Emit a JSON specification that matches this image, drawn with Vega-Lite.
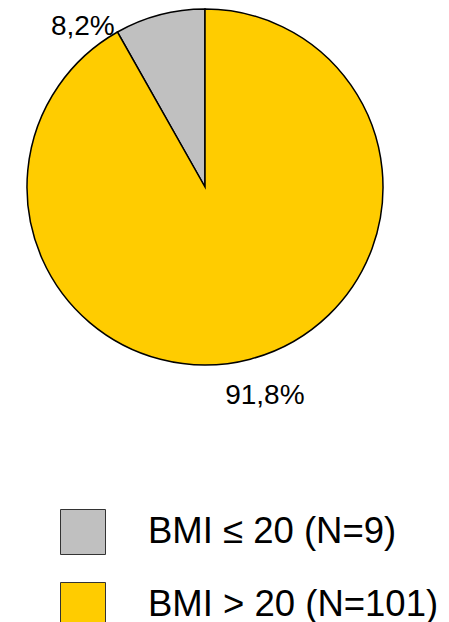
{
  "$schema": "https://vega.github.io/schema/vega-lite/v6.json",
  "width": 410,
  "height": 374,
  "autosize": {"type": "none"},
  "padding": {"left": 0, "top": 0, "right": 39, "bottom": 248},
  "background": "white",
  "view": {"stroke": null},
  "data": {
    "values": [
      {"group": "BMI ≤ 20 (N=9)", "n": 9, "pct": "8,2%"},
      {"group": "BMI > 20 (N=101)", "n": 101, "pct": "91,8%"}
    ]
  },
  "encoding": {
    "theta": {"field": "n", "type": "quantitative", "stack": true},
    "order": {"field": "n", "sort": "descending"}
  },
  "layer": [
    {
      "mark": {"type": "arc", "outerRadius": 178, "stroke": "black", "strokeWidth": 1.5},
      "encoding": {
        "color": {
          "field": "group",
          "type": "nominal",
          "scale": {"domain": ["BMI ≤ 20 (N=9)", "BMI > 20 (N=101)"], "range": ["#C0C0C0", "#FFCC00"]},
          "legend": {
            "title": null,
            "orient": "none",
            "legendX": 60,
            "legendY": 509,
            "symbolType": "square",
            "symbolSize": 2025,
            "symbolStrokeColor": "#333333",
            "symbolStrokeWidth": 1,
            "symbolOpacity": 1,
            "labelFont": "Liberation Sans",
            "labelFontSize": 36.5,
            "labelColor": "black",
            "labelLimit": 500,
            "labelOffset": 42,
            "rowPadding": 23
          }
        }
      }
    },
    {
      "transform": [{"filter": "datum.n == 9"}],
      "mark": {"type": "text", "radius": 200, "dx": -173, "dy": 33, "font": "Liberation Sans", "fontSize": 28, "color": "black"},
      "encoding": {"text": {"field": "pct"}}
    },
    {
      "transform": [{"filter": "datum.n == 101"}],
      "mark": {"type": "text", "radius": 200, "dx": 9, "dy": 16, "font": "Liberation Sans", "fontSize": 28, "color": "black"},
      "encoding": {"text": {"field": "pct"}}
    }
  ]
}
